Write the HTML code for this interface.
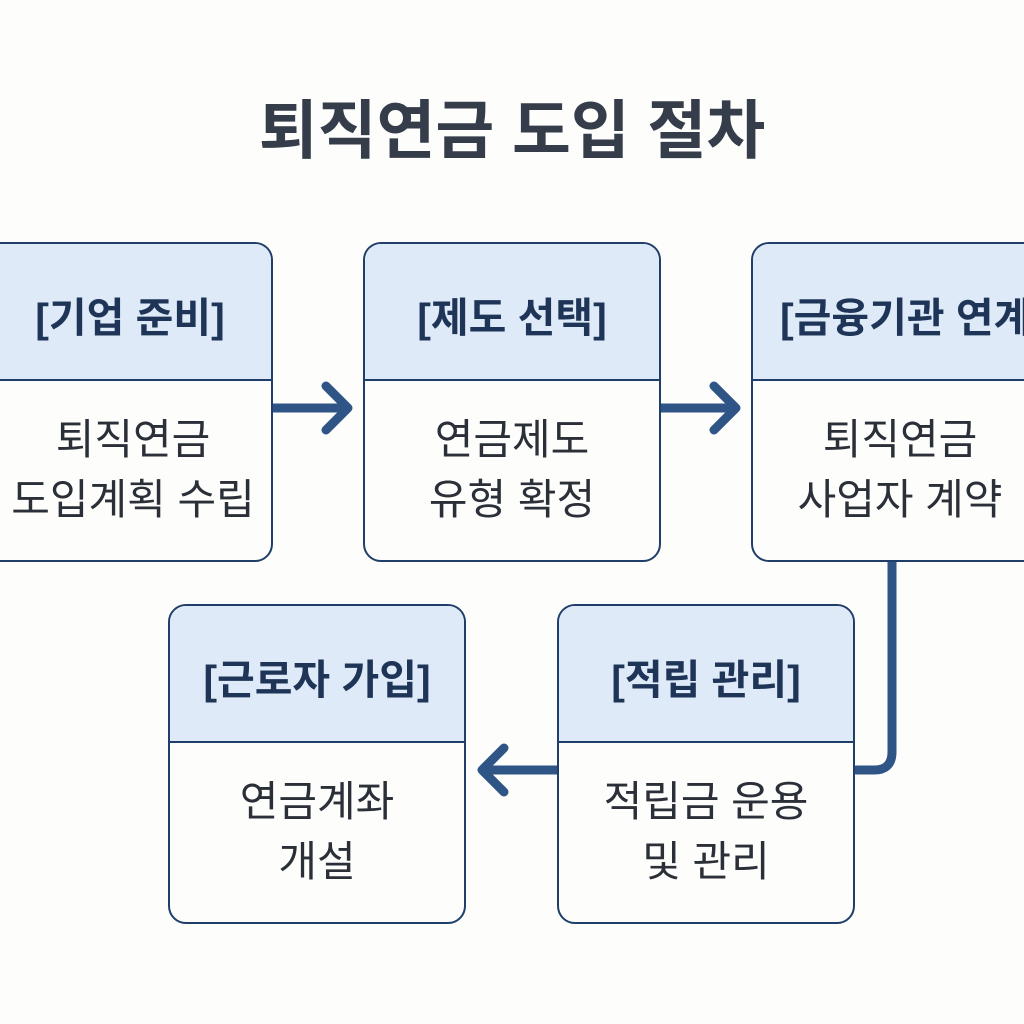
<!DOCTYPE html>
<html><head><meta charset="utf-8"><style>
body{margin:0;width:1024px;height:1024px;background:#fdfdfc;position:relative;overflow:hidden;font-family:"Liberation Sans","Noto Sans CJK KR",sans-serif}
.t{position:absolute;top:80px;left:0;width:1024px;text-align:center;font-size:64px;font-weight:bold;color:#353d4a;letter-spacing:0px}
.b{position:absolute;width:294px;height:316px;border:2.5px solid #1f3f6a;border-radius:18px;background:#fdfdfc;overflow:hidden}
.h{height:137px;background:#deeaf8;border-bottom:2.5px solid #1f3f6a;display:flex;align-items:center;justify-content:center;font-size:41px;font-weight:bold;color:#1f3558;white-space:nowrap;padding-top:4px;box-sizing:border-box}
.c{height:177px;display:flex;align-items:center;justify-content:center;text-align:center;font-size:42px;line-height:60px;color:#2a2f38;white-space:nowrap}
svg{position:absolute;left:0;top:0}
</style></head><body>
<div class="t">퇴직연금 도입 절차</div>
<svg width="1024" height="1024"><g stroke="#2e5585" stroke-width="9" fill="none" stroke-linecap="round" stroke-linejoin="round">
<path d="M272 408H346M326 386L348 408L326 430"/>
<path d="M660 408H734M714 386L736 408L714 430"/>
<path d="M892 562V752Q892 770 874 770H856"/>
<path d="M557 770H484M504 748L482 770L504 792"/>
</g></svg>
<div class="b" style="left:-25px;top:242px"><div class="h" style="padding-left:12px">[기업 준비]</div><div class="c" style="padding-left:18px">퇴직연금<br>도입계획 수립</div></div>
<div class="b" style="left:363px;top:242px"><div class="h">[제도 선택]</div><div class="c">연금제도<br>유형 확정</div></div>
<div class="b" style="left:751px;top:242px"><div class="h" style="justify-content:flex-start;padding-left:27px">[금융기관 연계]</div><div class="c" style="padding-right:0">퇴직연금<br>사업자 계약</div></div>
<div class="b" style="left:168px;top:604px"><div class="h">[근로자 가입]</div><div class="c">연금계좌<br>개설</div></div>
<div class="b" style="left:557px;top:604px"><div class="h">[적립 관리]</div><div class="c">적립금 운용<br>및 관리</div></div>
</body></html>
